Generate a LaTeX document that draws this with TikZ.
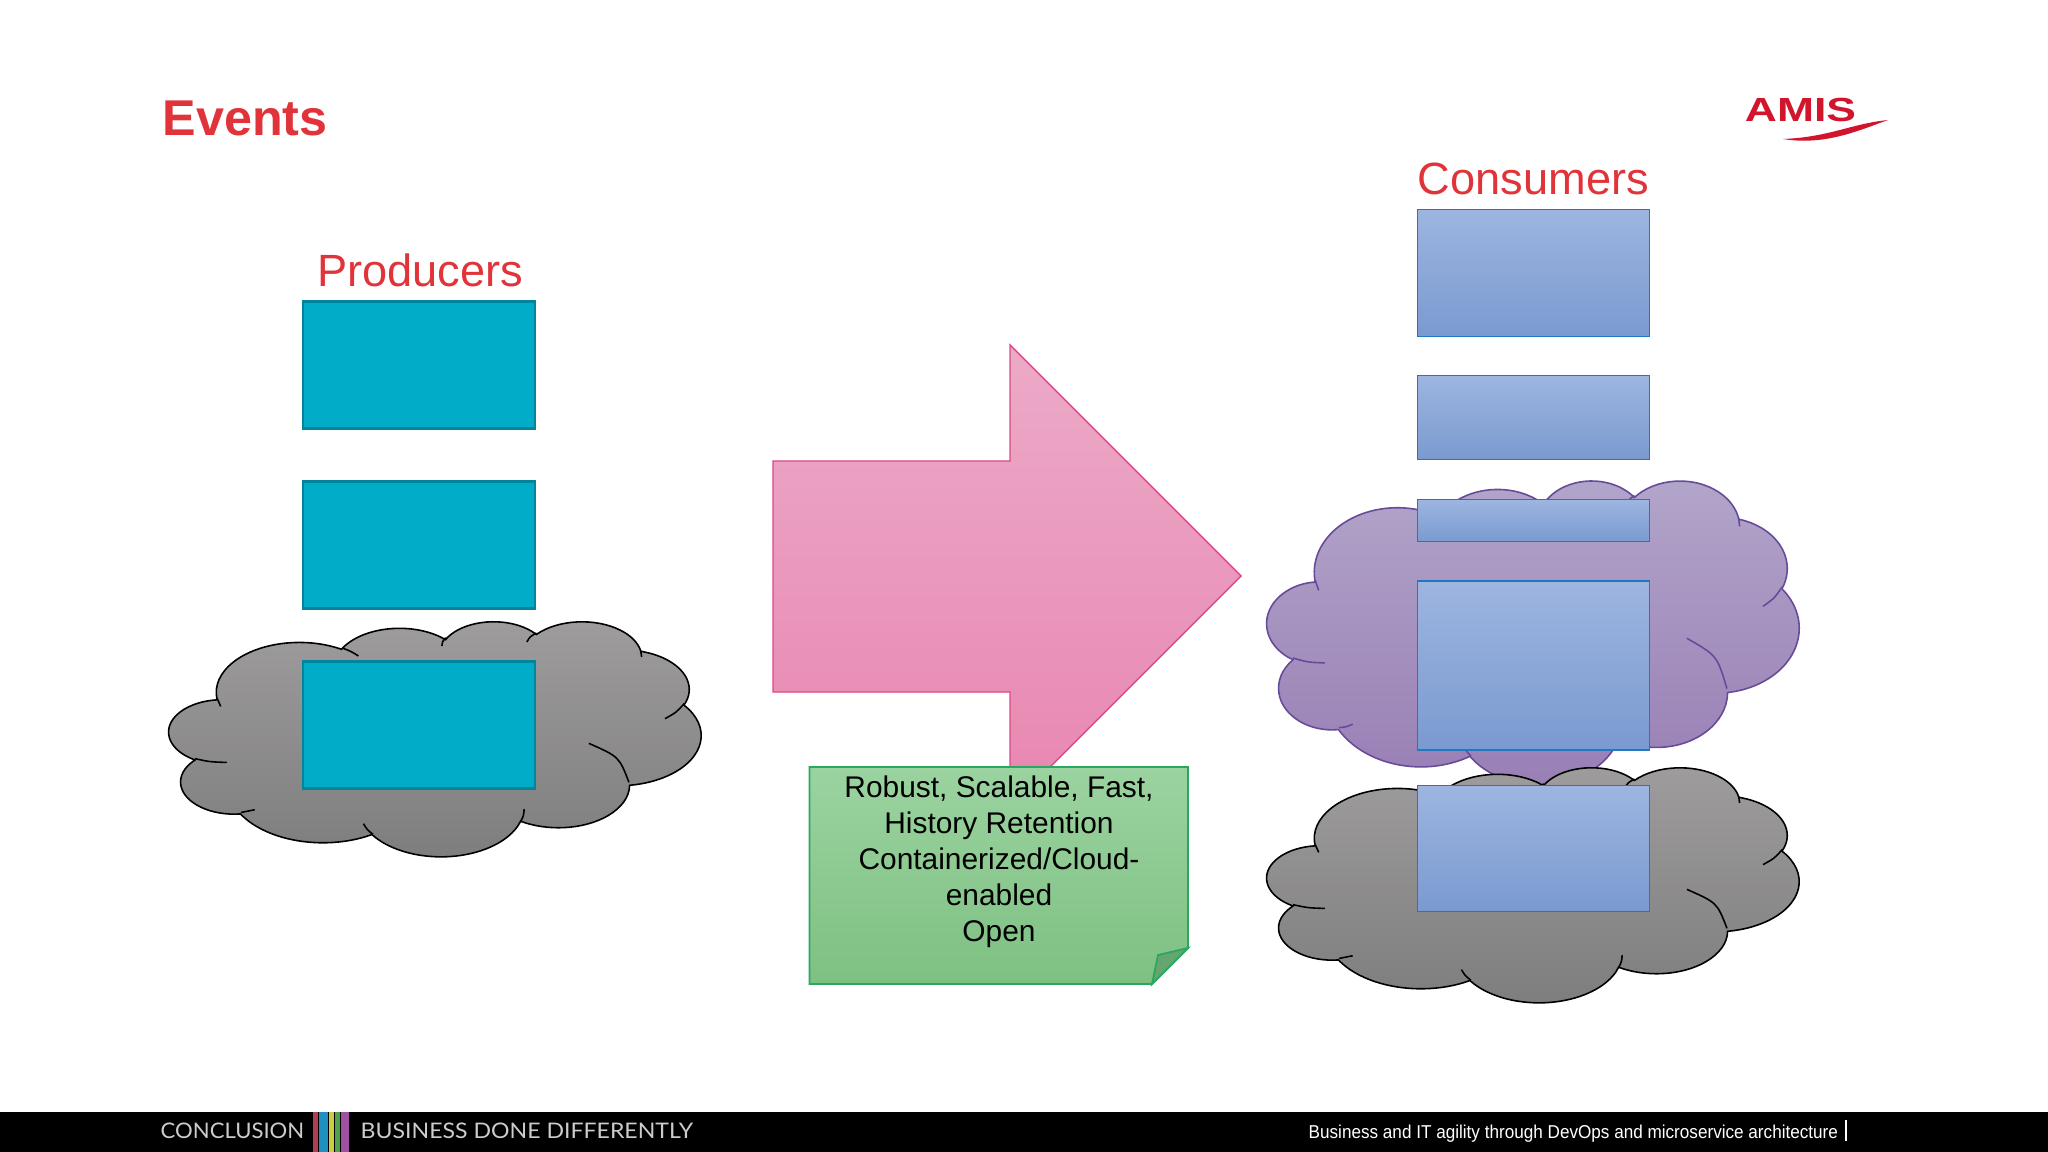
\documentclass[tikz,border=0pt]{standalone}
\usepackage{fontspec}
\setmainfont{Liberation Sans}
\newfontfamily\bandfont{Lato}
\definecolor{titlered}{HTML}{E1343A}
\definecolor{logored}{HTML}{D2142C}
\definecolor{tealfill}{HTML}{00ACC8}
\definecolor{tealline}{HTML}{00859C}
\definecolor{blueline}{HTML}{1F78C0}
\definecolor{bluetop}{HTML}{9DB5E0}
\definecolor{bluebot}{HTML}{7A9AD0}
\definecolor{greytop}{HTML}{9E9C9D}
\definecolor{greybot}{HTML}{7E7D7E}
\definecolor{purpleline}{HTML}{684A9A}
\definecolor{purpletop}{HTML}{B2A5CA}
\definecolor{purplebot}{HTML}{987EB4}
\definecolor{pinkline}{HTML}{DD4888}
\definecolor{pinktop}{HTML}{ECAAC8}
\definecolor{pinkbot}{HTML}{E886B0}
\definecolor{noteline}{HTML}{28A860}
\definecolor{notetop}{HTML}{9BD3A0}
\definecolor{notebot}{HTML}{7EC082}
\definecolor{notefold}{HTML}{64A570}
\definecolor{stripea}{HTML}{B04050}
\definecolor{stripeb}{HTML}{2090C0}
\definecolor{stripec}{HTML}{C8D040}
\definecolor{striped}{HTML}{50A050}
\definecolor{stripee}{HTML}{A050A0}
\tikzset{
  prodbox/.style={draw=tealline,fill=tealfill,line width=0.8pt,inner sep=0pt,minimum width=2.32cm},
  consbox/.style={draw=blueline,top color=bluetop,bottom color=bluebot,line width=0.5pt,inner sep=0pt,minimum width=2.32cm},
  cloudgrey/.style={draw=black,line width=0.45pt,top color=greytop,bottom color=greybot},
  cloudpurple/.style={draw=purpleline,line width=0.45pt,top color=purpletop,bottom color=purplebot},
  heading/.style={text=titlered,font=\fontsize{12.85}{15}\selectfont,inner sep=0pt},
  bandtext/.style={anchor=west,text=black!20,font=\bandfont\fontsize{6.1}{7}\selectfont,inner sep=0pt},
}
\newcommand{\cloudshape}[6]{%
  \begin{scope}[shift={(#3,#4)},x=#5*0.01cm/432,y=-#6*0.01cm/432]
    \path[#1] (39,143.7)
      \foreach \rx/\ry/\st/\sw [evaluate={\st as \ta using atan2(\rx*sin(\st),\ry*cos(\st))},
          evaluate={\sw as \tb using \ta+mod(atan2(\rx*sin(\st+\sw),\ry*cos(\st+\sw))-\ta+720,360)}] in {
        67.53/91.90/-190.487/123.781, 53.33/72.67/-144.102/89.945,
        43.65/59.45/-145.808/99.723, 48.57/65.95/-130.986/117.242,
        53.33/72.73/-78.709/109.027, 67.75/92.20/-46.267/130.269,
        57.85/78.67/0.625/114.033, 67.52/92.15/22.452/115.173,
        77.20/105.43/66.243/75.711, 43.60/59.18/-274.942/146.736,
        43.45/59.45/-246.829/152.519}
      { arc[start angle=\ta,end angle=\tb,x radius=\rx,y radius=\ry] } -- cycle;
    \foreach \ax/\ay/\cx/\cy/\bx/\by in {
        39.2/142.8/40/150/42/157, 21.1/253/33/259/46.9/260,
        58.4/352/64/351/69.6/347, 157.9/372.6/161/384/165.6/392,
        288.4/346/288/358/285.3/369.5, 341/225/365.5/249.5/373.5/296.5,
        418.3/152/412/168/402.8/179.5, 383/54/384/60/383.8/66,
        298.4/22/293/29/290.6/38.6, 224.7/30.6/222/38/221.6/46,
        140.8/49.6/148/56/153.8/64.3}
      \draw[#2,line width=0.45pt] (\ax,\ay) .. controls (\cx,\cy) .. (\bx,\by);
  \end{scope}}
\begin{document}
\begin{tikzpicture}[x=0.01cm,y=-0.01cm]
  \useasboundingbox (0,0) rectangle (2048,1152);
  \fill[white] (0,0) rectangle (2048,1152);

  % title and logo
  \node[text=titlered,font=\bfseries\fontsize{14.3}{17}\selectfont,inner sep=0pt] (title) at (245,118) {Events};
  \node[text=logored,font=\bfseries\fontsize{9.5}{10}\selectfont,inner sep=0pt] (logo) at (1800.5,110) {\scalebox{1.33}[1]{AMIS}};
  \fill[logored] (1783,139) .. controls (1830,137) and (1850,124) .. (1888,120) .. controls (1860,130) and (1825,146) .. cycle;

  % producers
  \cloudshape{cloudgrey}{black}{169}{621}{532}{235}
  \node[heading] (prod) at (420,270) {Producers};
  \node[prodbox,minimum height=1.27cm] (pa) at (419,365) {};
  \node[prodbox,minimum height=1.27cm] (pb) at (419,545) {};
  \node[prodbox,minimum height=1.27cm] (pc) at (419,725) {};

  % arrow and note
  \draw[draw=pinkline,line width=0.4pt,top color=pinktop,bottom color=pinkbot]
    (773,461) -- (1010,461) -- (1010,345) -- (1241,576) -- (1010,807) -- (1010,692) -- (773,692) -- cycle;
  \draw[draw=noteline,line width=0.5pt,top color=notetop,bottom color=notebot]
    (809.5,767) -- (1188,767) -- (1188,948) -- (1152,984) -- (809.5,984) -- cycle;
  \draw[draw=noteline,line width=0.5pt,fill=notefold]
    (1152,984) -- (1158,955) -- (1188,948) -- cycle;
  \node[align=center,inner sep=0pt,font=\fontsize{8.5}{10.2}\selectfont] (note) at (999,862)
    {Robust, Scalable, Fast,\\History Retention\\Containerized/Cloud-\\enabled\\Open};

  % consumers
  \cloudshape{cloudpurple}{purpleline}{1267}{480}{532}{304}
  \cloudshape{cloudgrey}{black}{1267}{767}{532}{235}
  \node[heading] (cons) at (1533.5,179) {Consumers};
  \node[consbox,minimum height=1.27cm] (ca) at (1533.5,273) {};
  \node[consbox,minimum height=0.84cm] (cb) at (1533.5,417.5) {};
  \node[consbox,minimum height=0.42cm] (cc) at (1533.5,520.5) {};
  \node[consbox,minimum height=1.69cm] (cd) at (1533.5,665.5) {};
  \node[consbox,minimum height=1.26cm] (ce) at (1533.5,848.5) {};

  % footer band
  \fill[black] (0,1112) rectangle (2048,1152);
  \foreach \xa/\xb/\barcol in {313/318/stripea,319/328/stripeb,329/334/stripec,335/340/striped,341/349/stripee}
    \fill[\barcol] (\xa,1112) rectangle (\xb,1152);
  \node[bandtext] (conc) at (160,1131) {\scalebox{1.03}[1]{CONCLUSION}};
  \node[bandtext] (slogan) at (360,1131) {\scalebox{1.076}[1]{BUSINESS DONE DIFFERENTLY}};
  \node[anchor=west,text=white,font=\fontsize{5.3}{6}\selectfont,inner sep=0pt] (theme) at (1308,1134) {\scalebox{0.919}[1]{Business and IT agility through DevOps and microservice architecture}};
  \fill[white] (1845,1120) rectangle (1847,1141);
\end{tikzpicture}
\end{document}
